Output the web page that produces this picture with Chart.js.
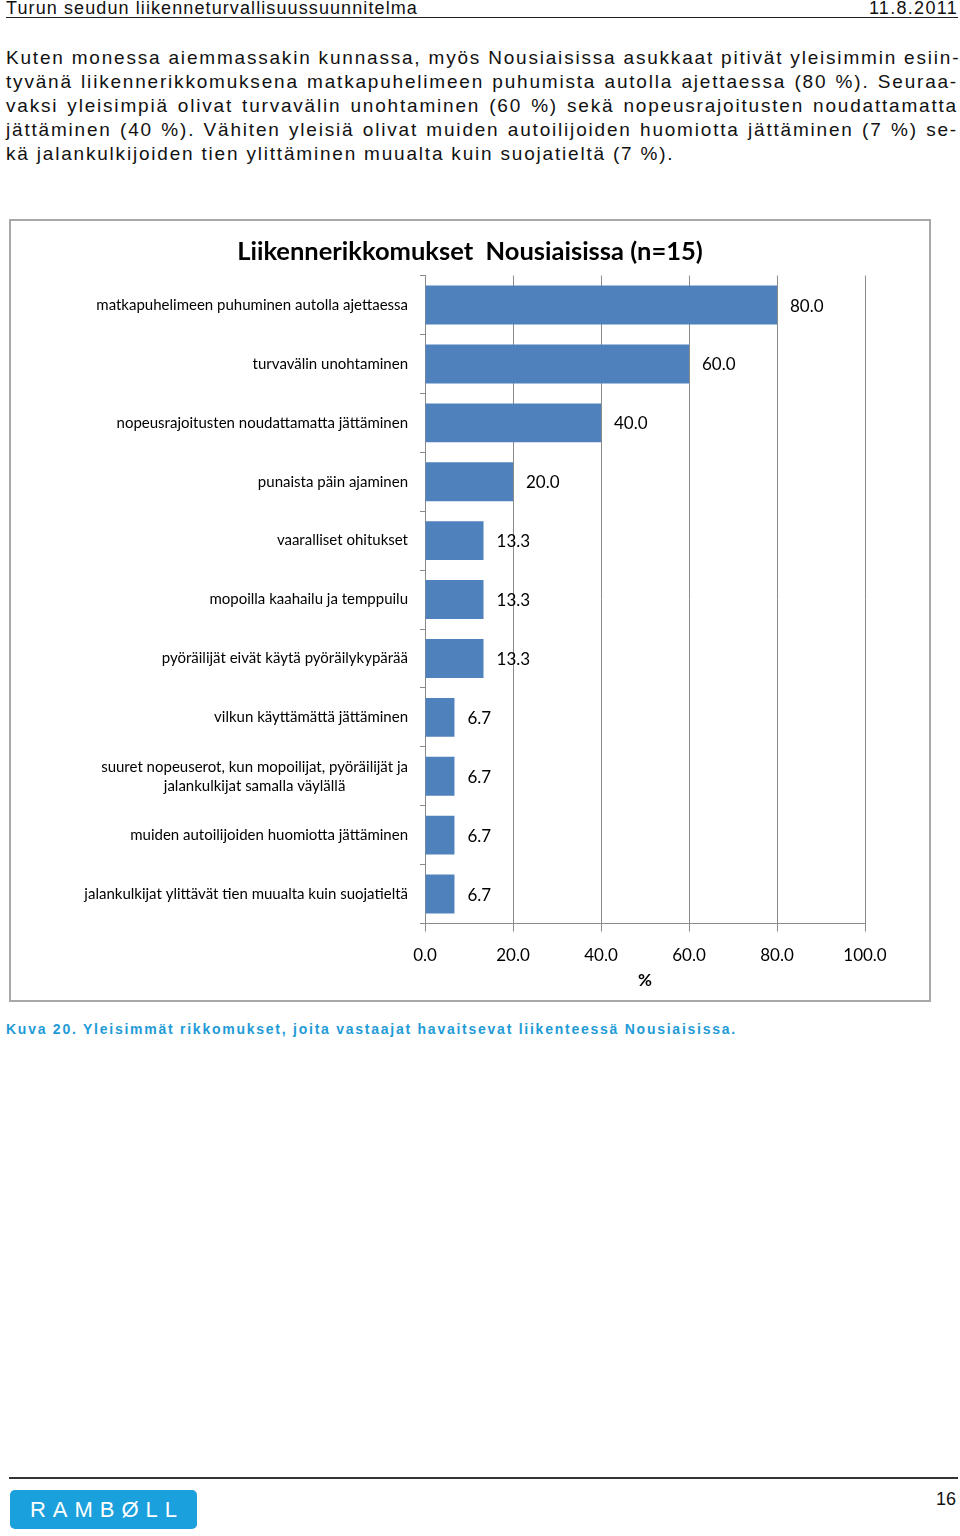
<!DOCTYPE html>
<html>
<head>
<meta charset="utf-8">
<script src="https://cdn.jsdelivr.net/npm/chart.js@4.4.1/dist/chart.umd.min.js"></script>
<style>
  body { margin: 0; background: #fff; width: 960px; height: 1536px; position: relative; overflow: hidden; }
  .hdr { position: absolute; left: 6px; top: 0; width: 952px; height: 17px; border-bottom: 1px solid #222;
         font: 18px "Liberation Sans", sans-serif; color: #111; line-height: 17px; letter-spacing: 1.1px; }
  .hdr .r { position: absolute; right: 0; top: 0; letter-spacing: 1.3px; }
  .para { position: absolute; left: 6px; top: 46px; width: 952px;
          font: 19px "Liberation Sans", sans-serif; color: #111; letter-spacing: 1.8px; line-height: 24px; }
  .para div { text-align: justify; text-align-last: justify; white-space: nowrap; }
  .para div.last { text-align-last: left; }
  #box { position: absolute; left: 9px; top: 219px; width: 922px; height: 783px; border: 2px solid #a8a8a8; box-sizing: border-box; }
  .cap { position: absolute; left: 6px; top: 1021px; font: bold 14px "Liberation Sans", sans-serif; color: #1e9bd7; letter-spacing: 1.75px; }
  .foot { position: absolute; left: 9px; top: 1477px; width: 949px; height: 0; border-top: 2px solid #333; }
  .logo { position: absolute; left: 10px; top: 1490px; width: 187px; height: 39px; background: #1aa0dc; border-radius: 5px;
          color: #fff; font: 22px "Liberation Sans", sans-serif; letter-spacing: 7px; text-indent: 7px; line-height: 39px; text-align: center; }
  .pg { position: absolute; right: 4px; top: 1489px; font: 18px "Liberation Sans", sans-serif; color: #111; }
</style>
</head>
<body>
<div class="hdr">Turun seudun liikenneturvallisuussuunnitelma<span class="r">11.8.2011</span></div>
<div class="para">
  <div>Kuten monessa aiemmassakin kunnassa, myös Nousiaisissa asukkaat pitivät yleisimmin esiin-</div>
  <div>tyvänä liikennerikkomuksena matkapuhelimeen puhumista autolla ajettaessa (80 %). Seuraa-</div>
  <div>vaksi yleisimpiä olivat turvavälin unohtaminen (60 %) sekä nopeusrajoitusten noudattamatta</div>
  <div>jättäminen (40 %). Vähiten yleisiä olivat muiden autoilijoiden huomiotta jättäminen (7 %) se-</div>
  <div class="last">kä jalankulkijoiden tien ylittäminen muualta kuin suojatieltä (7 %).</div>
</div>
<div id="box"><canvas id="chart"></canvas></div>
<div class="cap">Kuva 20. Yleisimmät rikkomukset, joita vastaajat havaitsevat liikenteessä Nousiaisissa.</div>
<div class="foot"></div>
<div class="logo">RAMBØLL</div>
<div class="pg">16</div>
<script>
var categories = [
  "matkapuhelimeen puhuminen autolla ajettaessa",
  "turvavälin unohtaminen",
  "nopeusrajoitusten noudattamatta jättäminen",
  "punaista päin ajaminen",
  "vaaralliset ohitukset",
  "mopoilla kaahailu ja temppuilu",
  "pyöräilijät eivät käytä pyöräilykypärää",
  "vilkun käyttämättä jättäminen",
  ["suuret nopeuserot, kun mopoilijat, pyöräilijät ja", "jalankulkijat samalla väylällä"],
  "muiden autoilijoiden huomiotta jättäminen",
  "jalankulkijat ylittävät tien muualta kuin suojatieltä"
];
var values = [80.0, 60.0, 40.0, 20.0, 13.3, 13.3, 13.3, 6.7, 6.7, 6.7, 6.7];
var xTicks = [0, 20, 40, 60, 80, 100];

var gridGray = '#8a8a8a';
var font = 'Lato, "Open Sans", sans-serif';
var labelPad = 17;

// value labels next to bars; two-line category labels are centred line by line
var barLabels = {
  id: 'barLabels',
  afterDatasetsDraw: function (chart) {
    var ctx = chart.ctx;
    var meta = chart.getDatasetMeta(0);
    ctx.save();
    ctx.font = '17px ' + font;
    ctx.fillStyle = '#000';
    ctx.textBaseline = 'middle';
    meta.data.forEach(function (bar, i) {
      ctx.fillText(values[i].toFixed(1), bar.x + 13, bar.y + 1);
    });
    var y = chart.scales.y;
    ctx.font = '15px ' + font;
    ctx.textAlign = 'center';
    categories.forEach(function (lab, i) {
      if (!Array.isArray(lab)) return;
      var w = Math.max.apply(null, lab.map(function (s) { return ctx.measureText(s).width; }));
      var cx = y.right - labelPad - w / 2;
      var cy = y.getPixelForValue(i);
      var lh = 19;
      lab.forEach(function (s, k) {
        ctx.fillText(s, cx, cy + (k - (lab.length - 1) / 2) * lh);
      });
    });
    ctx.restore();
  }
};

var chart = new Chart(document.getElementById('chart'), {
  type: 'bar',
  data: {
    labels: categories,
    datasets: [{
      data: values,
      backgroundColor: '#4f81bd',
      barPercentage: 0.66,
      categoryPercentage: 1.0
    }]
  },
  options: {
    indexAxis: 'y',
    responsive: true,
    maintainAspectRatio: false,
    animation: false,
    layout: { padding: 0 },
    plugins: {
      legend: { display: false },
      tooltip: { enabled: false },
      title: {
        display: true,
        text: 'Liikennerikkomukset  Nousiaisissa (n=15)',
        color: '#000',
        font: { family: font, size: 25.5, weight: 'bold' },
        padding: { top: 15, bottom: 9 }
      }
    },
    scales: {
      x: {
        min: 0,
        max: 100,
        afterBuildTicks: function (s) { s.ticks = xTicks.map(function (v) { return { value: v }; }); },
        ticks: {
          color: '#000',
          font: { family: font, size: 17 },
          padding: 14,
          callback: function (v) { return Number(v).toFixed(1); }
        },
        grid: { color: gridGray, tickLength: 8 },
        border: { color: gridGray },
        title: {
          display: true,
          text: '%',
          color: '#000',
          font: { family: font, size: 17, weight: 'bold' },
          padding: { top: 0, bottom: 9 }
        },
        afterFit: function (s) { s.height = 76.5; }
      },
      y: {
        ticks: {
          color: function (c) { return Array.isArray(categories[c.index]) ? 'rgba(0,0,0,0)' : '#000'; },
          font: { family: font, size: 15 },
          padding: 12
        },
        grid: { offset: true, drawOnChartArea: false, color: gridGray, tickLength: 5 },
        border: { color: gridGray },
        afterFit: function (s) { s.width = 414; }
      },
      yRight: {
        type: 'category',
        position: 'right',
        display: true,
        grid: { display: false },
        border: { display: false },
        ticks: { display: false },
        afterFit: function (s) { s.width = 64; }
      }
    }
  },
  plugins: [barLabels]
});
</script>
</body>
</html>
